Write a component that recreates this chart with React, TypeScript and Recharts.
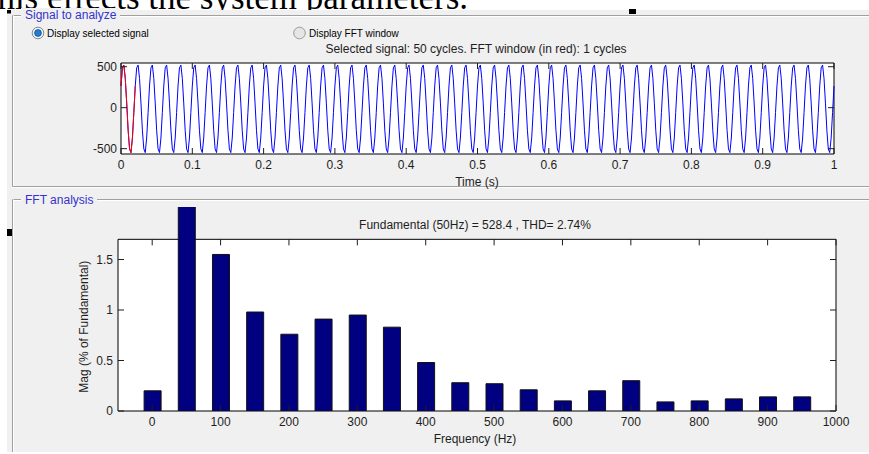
import React from "react";
import {
  Bar,
  BarChart,
  Line,
  LineChart,
  ReferenceArea,
  XAxis,
  YAxis,
} from "recharts";

// signal window: one cycle of the measured waveform (sampled every 2 ms), repeated
const cycleSamples = [265, 486, 520, 356, 56, -275, -503, -548, -370, -58];
const cycleCount = 50;
const sampleStep = 0.002;
const timeTicks = [0, 0.1, 0.2, 0.3, 0.4, 0.5, 0.6, 0.7, 0.8, 0.9, 1];
const signalTicks = [-500, 0, 500];
const signalDomain = [-565, 545];

// FFT bars, % of fundamental
const harmonicFreqs = [
  0, 50, 100, 150, 200, 250, 300, 350, 400, 450, 500, 550, 600, 650, 700, 750,
  800, 850, 900, 950,
];
const harmonicMags = [
  0.2, 100, 1.55, 0.98, 0.76, 0.91, 0.95, 0.83, 0.48, 0.28, 0.27, 0.21, 0.1,
  0.2, 0.3, 0.09, 0.1, 0.12, 0.14, 0.14,
];
const freqTicks = [0, 100, 200, 300, 400, 500, 600, 700, 800, 900, 1000];
const magTicks = [0, 0.5, 1, 1.5];
const magBoxTop = 1.7;
const magPlotTop = 2.02;

const signalData: { t: number; v: number }[] = [];
for (let c = 0; c < cycleCount; c++) {
  cycleSamples.forEach((v, i) =>
    signalData.push({ t: (c * cycleSamples.length + i) * sampleStep, v })
  );
}
signalData.push({ t: cycleCount * cycleSamples.length * sampleStep, v: cycleSamples[0] });
const windowData = signalData.slice(0, cycleSamples.length + 1);

const fftData = harmonicFreqs.map((f, i) => ({ f, mag: harmonicMags[i] }));

const FONT = "'Liberation Sans', Arial, sans-serif";
const INK = "#1e1e1e";
const TICK = 6;

// plot geometry (px)
const TOP_W = 713;
const TOP_H = 91;
const BOT_W = 718;
const BOT_H = 204;
const BOT_BOX_H = (BOT_H * magBoxTop) / magPlotTop;

function xTick(boxH: number) {
  return (props: any) => {
    const { x, y, payload } = props;
    return (
      <g>
        <line x1={x} x2={x} y1={y} y2={y - TICK} stroke={INK} />
        <line x1={x} x2={x} y1={y - boxH} y2={y - boxH + TICK} stroke={INK} />
        <text
          x={x}
          y={y + 15}
          textAnchor="middle"
          fontSize={12}
          fontFamily={FONT}
          fill={INK}
        >
          {payload.value}
        </text>
      </g>
    );
  };
}

function yTick(boxW: number, gap: number) {
  return (props: any) => {
    const { x, y, payload } = props;
    return (
      <g>
        <line x1={x} x2={x + TICK} y1={y} y2={y} stroke={INK} />
        <line x1={x + boxW} x2={x + boxW - TICK} y1={y} y2={y} stroke={INK} />
        <text
          x={x - gap}
          y={y + 4.3}
          textAnchor="end"
          fontSize={12}
          fontFamily={FONT}
          fill={INK}
        >
          {payload.value}
        </text>
      </g>
    );
  };
}

function Chrome() {
  const etch = (x1: number, y1: number, x2: number, y2: number) => (
    <g>
      <line x1={x1} y1={y1} x2={x2} y2={y2} stroke="#a0a0a0" />
      <line
        x1={x1 + (x1 === x2 ? 1 : 0)}
        y1={y1 + (y1 === y2 ? 1 : 0)}
        x2={x2 + (x1 === x2 ? 1 : 0)}
        y2={y2 + (y1 === y2 ? 1 : 0)}
        stroke="#ffffff"
      />
    </g>
  );
  return (
    <svg
      width={869}
      height={454}
      style={{ position: "absolute", left: 0, top: 0 }}
    >
      <rect width={869} height={454} fill="#ffffff" />
      <text
        x={-24}
        y={8.5}
        fontSize={35}
        fontFamily="'Liberation Serif', 'Times New Roman', serif"
        fill="#000"
      >
        This effects the system parameters.
      </text>
      <rect x={7} y={10} width={862} height={442} fill="#f0f0f0" />

      {etch(12.5, 15.5, 869, 15.5)}
      {etch(12.5, 15.5, 12.5, 186.5)}
      {etch(12.5, 186.5, 869, 186.5)}
      {etch(12.5, 199.5, 869, 199.5)}
      {etch(12.5, 199.5, 12.5, 452)}

      <rect x={21} y={8} width={99} height={14} fill="#f0f0f0" />
      <text x={25} y={19} fontSize={12} fontFamily={FONT} fill="#3333cc">
        Signal to analyze
      </text>
      <rect x={21} y={192} width={76} height={14} fill="#f0f0f0" />
      <text x={25} y={203.5} fontSize={12} fontFamily={FONT} fill="#3333cc">
        FFT analysis
      </text>

      <circle cx={38} cy={33} r={5.8} fill="#f4f4f4" stroke="#7f8a94" />
      <circle cx={38} cy={33} r={3.4} fill="#1f7fd4" stroke="#0d4f8f" strokeWidth={0.8} />
      <text x={47} y={36.6} fontSize={10} fontFamily={FONT} fill="#000">
        Display selected signal
      </text>
      <circle cx={299.5} cy={33} r={5.8} fill="#e6e6e6" stroke="#9a9a9a" />
      <text x={309} y={36.6} fontSize={10} fontFamily={FONT} fill="#000">
        Display FFT window
      </text>

      <text x={476} y={53.3} textAnchor="middle" fontSize={12} fontFamily={FONT} fill={INK}>
        Selected signal: 50 cycles. FFT window (in red): 1 cycles
      </text>
      <text x={477} y={185.5} textAnchor="middle" fontSize={12} fontFamily={FONT} fill={INK}>
        Time (s)
      </text>
      <text x={475} y={228.6} textAnchor="middle" fontSize={12} fontFamily={FONT} fill={INK}>
        Fundamental (50Hz) = 528.4 , THD= 2.74%
      </text>
      <text
        transform="translate(87.6, 326.7) rotate(-90)"
        textAnchor="middle"
        fontSize={12}
        fontFamily={FONT}
        fill={INK}
      >
        Mag (% of Fundamental)
      </text>
      <text x={475} y={442.5} textAnchor="middle" fontSize={12} fontFamily={FONT} fill={INK}>
        Frequency (Hz)
      </text>

      <rect x={7} y={10} width={4} height={3.5} fill="#000" />
      <rect x={7} y={229} width={5} height={7} fill="#000" />
      <rect x={629} y={9} width={7} height={5} fill="#000" />
    </svg>
  );
}

export default function App() {
  return (
    <div
      style={{
        position: "absolute",
        left: 0,
        top: 0,
        width: 869,
        height: 454,
        overflow: "hidden",
      }}
    >
      <Chrome />
      <div style={{ position: "absolute", left: 0, top: 0 }}>
        <LineChart
          width={869}
          height={190}
          margin={{ top: 63, right: 35, bottom: 6, left: 81 }}
        >
          <XAxis
            type="number"
            dataKey="t"
            domain={[0, 1]}
            ticks={timeTicks}
            height={30}
            axisLine={false}
            tickLine={false}
            tickSize={0}
            tickMargin={0}
            tick={xTick(TOP_H)}
            interval={0}
          />
          <YAxis
            type="number"
            domain={signalDomain}
            ticks={signalTicks}
            width={40}
            axisLine={false}
            tickLine={false}
            tickSize={0}
            tickMargin={0}
            tick={yTick(TOP_W, 4)}
            interval={0}
          />
          <ReferenceArea
            x1={0}
            x2={1}
            y1={signalDomain[0]}
            y2={signalDomain[1]}
            fill="#ffffff"
            fillOpacity={1}
            stroke="#000"
            strokeWidth={1}
          />
          <Line
            data={signalData}
            dataKey="v"
            stroke="#0000ff"
            strokeWidth={1}
            dot={false}
            isAnimationActive={false}
          />
          <Line
            data={windowData}
            dataKey="v"
            stroke="#ff0000"
            strokeWidth={1}
            dot={false}
            isAnimationActive={false}
          />
        </LineChart>
      </div>
      <div style={{ position: "absolute", left: 0, top: 190 }}>
        <BarChart
          width={869}
          height={264}
          data={fftData}
          margin={{ top: 17, right: 33, bottom: 13, left: 78 }}
        >
          <XAxis
            type="number"
            dataKey="f"
            domain={[-50, 1000]}
            ticks={freqTicks}
            height={30}
            axisLine={false}
            tickLine={false}
            tickSize={0}
            tickMargin={0}
            tick={xTick(BOT_BOX_H)}
            interval={0}
          />
          <YAxis
            type="number"
            domain={[0, magPlotTop]}
            allowDataOverflow
            ticks={magTicks}
            width={40}
            axisLine={false}
            tickLine={false}
            tickSize={0}
            tickMargin={0}
            tick={yTick(BOT_W, 5)}
            interval={0}
          />
          <ReferenceArea
            x1={-50}
            x2={1000}
            y1={0}
            y2={magBoxTop}
            fill="#ffffff"
            fillOpacity={1}
            stroke="#000"
            strokeWidth={1}
          />
          <Bar
            dataKey="mag"
            fill="#000080"
            stroke="#111"
            strokeWidth={1}
            barSize={17}
            isAnimationActive={false}
          />
        </BarChart>
      </div>
    </div>
  );
}
